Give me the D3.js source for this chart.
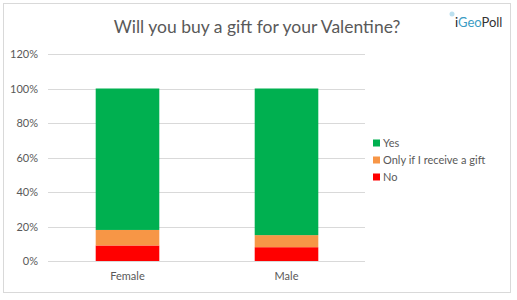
<!DOCTYPE html>
<html><head><meta charset="utf-8">
<script src="https://cdn.jsdelivr.net/npm/d3@7"></script>
<style>body{margin:0;background:#fff}svg{display:block}</style>
</head><body>
<script>
const categories = ["Female", "Male"];
const seriesNames = ["No", "Only if I receive a gift", "Yes"];
const noValues = [9, 8];
const onlyValues = [9, 7];
const yesValues = [82, 85];
const yTicks = [0, 20, 40, 60, 80, 100, 120];
const colors = ["#ff0000", "#f79646", "#00b050"];

const W = 517, H = 300;
const svg = d3.select("body").append("svg").attr("width", W).attr("height", H);
const font = "Lato, 'Liberation Sans', sans-serif";
svg.append("rect").attr("x", 3.5).attr("y", 3.5).attr("width", 507).attr("height", 289)
  .attr("fill", "#fff").attr("stroke", "#d9d9d9");

const x = d3.scaleBand().domain(categories).range([48, 366]).paddingInner(0.6).paddingOuter(0.3);
const y = d3.scaleLinear().domain([0, 120]).range([261, 54]);

const g = svg.append("g");
g.selectAll("line.grid").data(yTicks).join("line")
  .attr("x1", 48).attr("x2", 365)
  .attr("y1", d => Math.round(y(d)) + 0.5).attr("y2", d => Math.round(y(d)) + 0.5)
  .attr("stroke", "#d9d9d9");

const yAxis = d3.axisLeft(y).tickValues(yTicks).tickSize(0).tickPadding(0).tickFormat(d => d + "%");
const ya = svg.append("g").attr("transform", "translate(38,0)").call(yAxis);
ya.select(".domain").remove();
ya.selectAll("text").attr("font-family", font).attr("font-size", 11).attr("fill", "#595959");

const data = categories.map((c, i) => ({cat: c, No: noValues[i], "Only if I receive a gift": onlyValues[i], Yes: yesValues[i]}));
const stack = d3.stack().keys(seriesNames)(data);
svg.append("g").selectAll("g").data(stack).join("g").attr("fill", (d, i) => colors[i])
  .selectAll("rect").data(d => d).join("rect")
  .attr("x", d => x(d.data.cat)).attr("width", x.bandwidth())
  .attr("y", d => y(d[1])).attr("height", d => y(d[0]) - y(d[1]));

const xAxis = d3.axisBottom(x).tickSize(0).tickPadding(11);
const xa = svg.append("g").attr("transform", "translate(0,261)").call(xAxis);
xa.select(".domain").remove();
xa.selectAll("text").attr("font-family", font).attr("font-size", 11).attr("fill", "#595959");

svg.append("text").attr("x", 257).attr("y", 33).attr("text-anchor", "middle")
  .attr("font-family", font).attr("font-size", 17.5).attr("fill", "#595959")
  .text("Will you buy a gift for your Valentine?");

const legendOrder = [2, 1, 0];
const lg = svg.append("g");
legendOrder.forEach((si, k) => {
  const yy = 143 + k * 17;
  lg.append("rect").attr("x", 373).attr("y", yy - 3.5).attr("width", 7).attr("height", 7).attr("fill", colors[si]);
  lg.append("text").attr("x", 383).attr("y", yy + 4).attr("font-family", font).attr("font-size", 11)
    .attr("fill", "#595959").text(seriesNames[si]);
});

const logo = svg.append("text").attr("x", 455).attr("y", 27).attr("font-family", font).attr("font-size", 13);
logo.append("tspan").attr("fill", "#222").text("i");
logo.append("tspan").attr("fill", "#3b9cc4").text("Geo");
logo.append("tspan").attr("fill", "#333").text("Poll");
svg.append("circle").attr("cx", 452).attr("cy", 14).attr("r", 2.5).attr("fill", "#9fd3e8").attr("opacity", 0.7);
</script>
</body></html>
